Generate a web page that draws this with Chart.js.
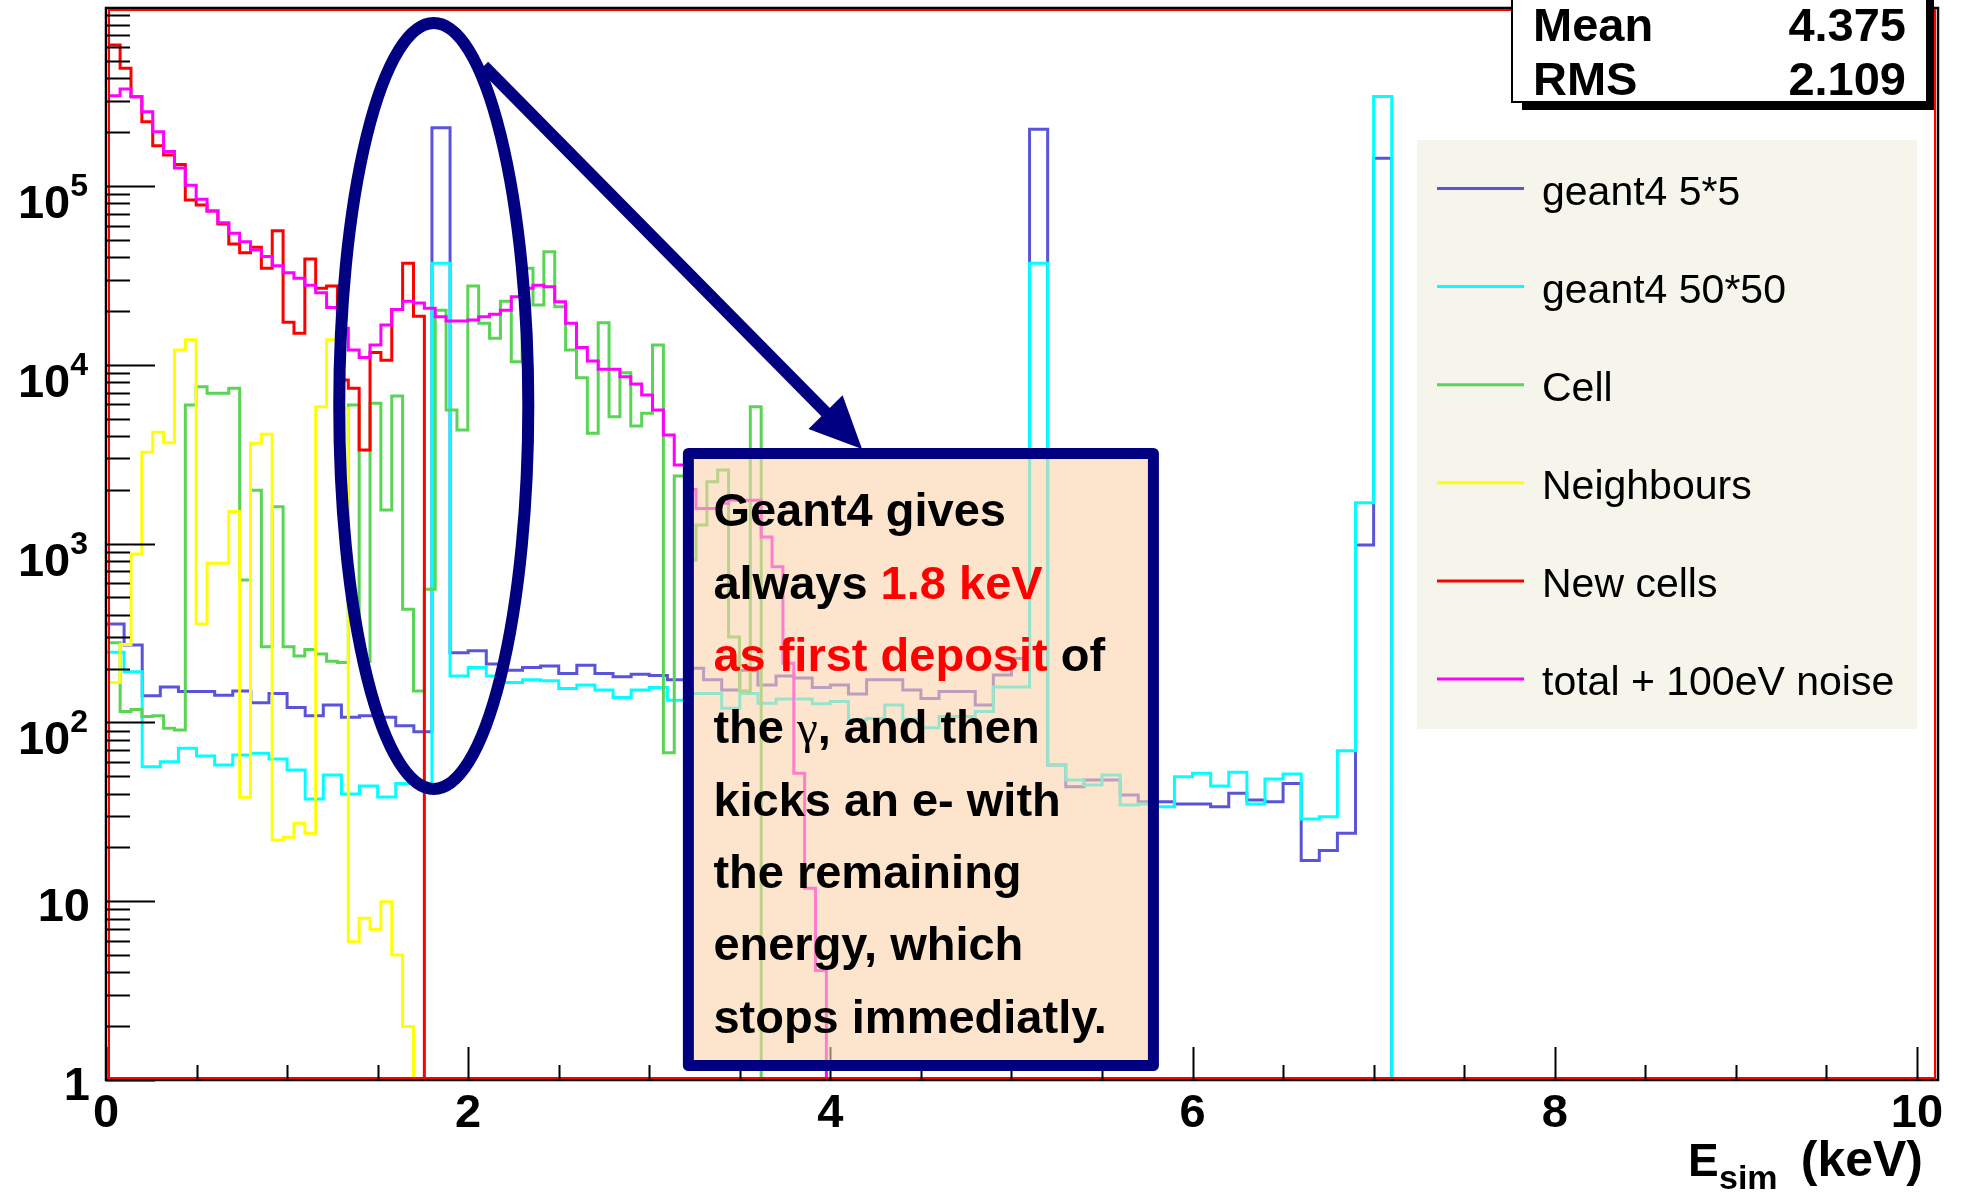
<!DOCTYPE html>
<html lang="en">
<head>
<meta charset="UTF-8">
<title>E_sim spectrum</title>
<script src="https://cdn.jsdelivr.net/npm/chart.js"></script>
<style>
    html, body { margin: 0; padding: 0; background: #fff; }
    #wrap { width: 1965px; height: 1194px; }
</style>
</head>
<body>
<div id="wrap"><canvas id="chartCanvas" width="1965" height="1194"></canvas></div>
<script>
// binning: fine histograms (Cell, Neighbours, New cells, total) and coarse geant4 ones
const FINE_START = 0.018;
const FINE_WIDTH = 0.06;
const COARSE_START = 0;
const COARSE_WIDTH = 0.1;

const X_MIN = 0, X_MAX = 10.1;
const Y_MIN = 1, Y_MAX = 9.9e5;

const X_TICKS = [0, 2, 4, 6, 8, 10];
const Y_TICKS = [[1, '1', ''], [10, '10', ''], [100, '10', '2'], [1000, '10', '3'], [10000, '10', '4'], [100000, '10', '5']];

// bin contents, 0.1 keV bins
const geant4_5x5 = [355, 271, 141, 158, 149, 149, 142, 150, 129, 145,
    121, 109, 125, 107, 109, 107, 95.9, 88.7, 2.12e5, 245,
    252, 212, 196, 203, 207, 188, 209, 188, 180, 186,
    183, 173, 201, 173, 152, 196, 162, 182, 177, 157,
    162, 144, 173, 173, 152, 136, 149, 149, 125, 184,
    228, 2.08e5, 57.8, 43.7, 47.6, 47.6, 39.3, 36.0, 36.0, 35.0,
    35.0, 33.8, 40.1, 36.8, 36.0, 45.6, 16.9, 19.2, 24.0, 982,
    1.43e5, 0];
const geant4_50x50 = [247, 192, 56.5, 60.3, 71.6, 64.9, 57.8, 65.7, 67.2, 62.4,
    54.2, 37.3, 50.8, 39.8, 44.1, 38.3, 45.6, 44.7, 3.70e4, 182,
    203, 182, 167, 173, 171, 155, 162, 152, 138, 152,
    157, 133, 145, 145, 120, 145, 128, 135, 135, 127,
    131, 103, 105, 125, 104, 93.4, 108, 108, 115, 158,
    158, 3.70e4, 57.8, 47.6, 44.7, 50.8, 34.5, 35.0, 33.8, 49.7,
    51.9, 44.1, 52.6, 35.0, 48.2, 51.4, 28.8, 29.7, 69.5, 1.69e3,
    3.17e5, 0];

// bin contents, 0.06 keV bins
const cell = [279, 115, 118, 108, 109, 92.7, 90.7, 5.96e3, 7.55e3, 6.93e3,
    6.93e3, 7.39e3, 626, 1.99e3, 265, 1.61e3, 265, 235, 256, 241,
    220, 216, 5.96e3, 219, 6.09e3, 1.54e3, 6.69e3, 429, 150, 555,
    2.02e4, 5.59e3, 4.32e3, 2.76e4, 1.71e4, 1.41e4, 2.27e4, 1.04e4, 3.47e4, 2.16e4,
    4.29e4, 2.11e4, 1.21e4, 8.47e3, 4.14e3, 1.72e4, 5.13e3, 9.03e3, 4.55e3, 5.36e3,
    1.29e4, 67.7, 2.39e3, 810, 1.27e3, 2.22e3, 2.58e3, 300, 150, 5.83e3,
    0];
const neighbours = [167, 273, 875, 3.24e3, 4.19e3, 3.67e3, 1.21e4, 1.38e4, 355, 776,
    776, 1.51e3, 38.1, 3.64e3, 4.09e3, 22.0, 22.8, 27.3, 24.0, 5.83e3,
    1.38e4, 5.71e3, 5.94, 8.02, 6.96, 9.94, 5.0, 1.99, 0];
const newCells = [6.15e5, 4.55e5, 3.16e5, 2.29e5, 1.68e5, 1.49e5, 1.32e5, 8.35e4, 7.83e4, 7.25e4,
    6.13e4, 4.74e4, 4.24e4, 4.54e4, 3.47e4, 5.62e4, 1.73e4, 1.50e4, 3.91e4, 2.68e4,
    2.76e4, 8.22e3, 7.39e3, 3.34e3, 1.17e4, 1.06e4, 2.04e4, 3.70e4, 1.87e4, 0];
const totalNoise = [3.20e5, 3.49e5, 3.16e5, 2.60e5, 2.01e5, 1.56e5, 1.26e5, 1.01e5, 8.43e4, 7.25e4,
    6.24e4, 5.44e4, 4.88e4, 4.39e4, 4.03e4, 3.58e4, 3.27e4, 3.05e4, 2.79e4, 2.53e4,
    2.09e4, 1.60e4, 1.21e4, 1.10e4, 1.29e4, 1.67e4, 2.04e4, 2.27e4, 2.22e4, 2.07e4,
    1.86e4, 1.76e4, 1.76e4, 1.78e4, 1.86e4, 1.92e4, 2.02e4, 2.40e4, 2.68e4, 2.79e4,
    2.73e4, 2.25e4, 1.71e4, 1.25e4, 1.05e4, 9.44e3, 9.44e3, 8.58e3, 7.81e3, 6.78e3,
    5.59e3, 4.05e3, 2.75e3, 2.01e3, 1.57e3, 1.57e3, 1.68e3, 1.75e3, 1.75e3, 1.75e3,
    1.09e3, 743, 214, 52, 11.8, 4.1, 0];

const STATS = [['Mean', '4.375'], ['RMS', '2.109']];

const NOTE_LINES = [
    [['Geant4 gives', '#000']],
    [['always ', '#000'], ['1.8 keV', '#f00']],
    [['as first deposit', '#f00'], [' of', '#000']],
    [['the ', '#000'], ['\u03b3', '#000', 'serif'], [', and then', '#000']],
    [['kicks an e- with', '#000']],
    [['the remaining', '#000']],
    [['energy, which', '#000']],
    [['stops immediatly.', '#000']]
];

const SANS = '"Liberation Sans", Arial, Helvetica, sans-serif';
const NAVY = '#000080';

// histogram -> step points (empty bins sit on the frame bottom, like ROOT's log scale)
function toSteps(values, start, width) {
    const pts = values.map((v, i) => ({ x: start + i * width, y: Math.max(v, Y_MIN) }));
    const last = values[values.length - 1];
    pts.push({ x: last > 0 ? start + values.length * width : X_MAX, y: Math.max(last, Y_MIN) });
    return pts;
}

function hist(label, values, start, width, color, order) {
    return {
        label: label,
        data: toSteps(values, start, width),
        borderColor: color,
        borderWidth: 3,
        stepped: true,
        pointRadius: 0,
        fill: false,
        order: order
    };
}

const rootStyle = {
    id: 'rootStyle',
    afterDatasetsDraw(chart) {
        const ctx = chart.ctx;
        const xs = chart.scales.x, ys = chart.scales.y;
        const a = chart.chartArea;
        ctx.save();

        // frame
        ctx.lineWidth = 2.5;
        ctx.strokeStyle = '#000';
        ctx.strokeRect(a.left, a.top, a.right + 3 - a.left, a.bottom - a.top);
        ctx.lineWidth = 2;
        ctx.strokeStyle = '#f00';
        ctx.strokeRect(a.left + 3, a.top + 2, a.right - a.left - 3, a.bottom - a.top - 4);

        // ticks
        ctx.strokeStyle = '#000';
        ctx.lineWidth = 2;
        ctx.beginPath();
        for (let d = 0; d <= 6; d++) {
            for (let m = 1; m <= 9; m++) {
                const v = m * Math.pow(10, d);
                if (v >= Y_MAX) break;
                const y = Math.round(ys.getPixelForValue(v)) + 0.5;
                ctx.moveTo(a.left, y);
                ctx.lineTo(a.left + (m === 1 ? 49 : 24), y);
            }
        }
        for (let i = 0; i * 0.5 <= 10; i++) {
            const x = Math.round(xs.getPixelForValue(i * 0.5)) + 0.5;
            ctx.moveTo(x, a.bottom);
            ctx.lineTo(x, a.bottom - (i % 4 === 0 ? 33 : 15));
        }
        ctx.stroke();

        // tick labels
        ctx.fillStyle = '#000';
        ctx.textBaseline = 'alphabetic';
        ctx.font = 'bold 47px ' + SANS;
        ctx.textAlign = 'center';
        X_TICKS.forEach(t => ctx.fillText(String(t), xs.getPixelForValue(t), 1127));
        Y_TICKS.forEach(([v, base, exp]) => {
            const y = ys.getPixelForValue(v);
            ctx.font = 'bold 47px ' + SANS;
            if (!exp) {
                ctx.textAlign = 'right';
                ctx.fillText(base, 90, y + 20);
                return;
            }
            const wb = ctx.measureText(base).width;
            ctx.font = 'bold 32px ' + SANS;
            const we = ctx.measureText(exp).width;
            ctx.textAlign = 'left';
            ctx.fillText(exp, 88 - we, y + 10);
            ctx.font = 'bold 47px ' + SANS;
            ctx.fillText(base, 88 - we - wb, y + 32);
        });

        // axis title
        ctx.textAlign = 'left';
        ctx.font = 'bold 46px ' + SANS;
        ctx.fillText('E', 1688, 1176);
        ctx.font = 'bold 34px ' + SANS;
        ctx.fillText('sim', 1719, 1189);
        ctx.textAlign = 'right';
        ctx.font = 'bold 50px ' + SANS;
        ctx.fillText('(keV)', 1923, 1176);

        // ellipse around the 1.8 keV line
        const cx = xs.getPixelForValue(1.81);
        const cy = ys.getPixelForValue(Math.pow(10, 3.77));
        const rx = xs.getPixelForValue(1.81 + 0.522) - cx;
        const ry = cy - ys.getPixelForValue(Math.pow(10, 3.77 + 2.142));
        ctx.strokeStyle = NAVY;
        ctx.lineWidth = 12;
        ctx.beginPath();
        ctx.ellipse(cx, cy, rx, ry, 0, 0, Math.PI * 2);
        ctx.stroke();

        // arrow to the note
        const x0 = xs.getPixelForValue(2.087), y0 = ys.getPixelForValue(Math.pow(10, 5.671));
        const x1 = xs.getPixelForValue(4.175), y1 = ys.getPixelForValue(Math.pow(10, 3.529));
        const len = Math.hypot(x1 - x0, y1 - y0);
        const ux = (x1 - x0) / len, uy = (y1 - y0) / len;
        const head = 52, half = 24;
        ctx.beginPath();
        ctx.moveTo(x0, y0);
        ctx.lineTo(x1 - ux * (head - 4), y1 - uy * (head - 4));
        ctx.stroke();
        ctx.fillStyle = NAVY;
        ctx.beginPath();
        ctx.moveTo(x1, y1);
        ctx.lineTo(x1 - ux * head - uy * half, y1 - uy * head + ux * half);
        ctx.lineTo(x1 - ux * head + uy * half, y1 - uy * head - ux * half);
        ctx.closePath();
        ctx.fill();

        // note box (semi transparent fill)
        const bl = xs.getPixelForValue(3.216), br = xs.getPixelForValue(5.784);
        const bt = ys.getPixelForValue(Math.pow(10, 3.504)), bb = ys.getPixelForValue(Math.pow(10, 0.081));
        ctx.fillStyle = 'rgba(252, 210, 172, 0.6)';
        ctx.fillRect(bl, bt, br - bl, bb - bt);
        ctx.lineWidth = 11;
        ctx.strokeStyle = NAVY;
        ctx.lineJoin = 'round';
        ctx.strokeRect(bl, bt, br - bl, bb - bt);
        ctx.textAlign = 'left';
        NOTE_LINES.forEach((line, i) => {
            let x = bl + 25;
            const y = bt + 73 + i * 72.3;
            line.forEach(([txt, col, face]) => {
                ctx.font = face === 'serif' ? '47px "Liberation Serif", serif' : 'bold 47px ' + SANS;
                ctx.fillStyle = col;
                ctx.fillText(txt, x, y);
                x += ctx.measureText(txt).width;
            });
        });

        // stats box
        ctx.lineJoin = 'miter';
        ctx.fillStyle = '#000';
        ctx.fillRect(1522, -10, 412, 120);
        ctx.fillStyle = '#fff';
        ctx.fillRect(1512, -10, 415, 112);
        ctx.lineWidth = 2;
        ctx.strokeStyle = '#000';
        ctx.strokeRect(1512, -10, 415, 112);
        ctx.fillStyle = '#000';
        ctx.font = 'bold 47px ' + SANS;
        STATS.forEach(([k, v], i) => {
            const y = 41 + i * 54;
            ctx.textAlign = 'left';
            ctx.fillText(k, 1533, y);
            ctx.textAlign = 'right';
            ctx.fillText(v, 1906, y);
        });

        // legend
        ctx.fillStyle = '#f5f5ec';
        ctx.fillRect(1417, 140, 500, 589);
        ctx.font = '41px ' + SANS;
        ctx.textAlign = 'left';
        chart.data.datasets.forEach((ds, i) => {
            const y = 188.5 + i * 98.1;
            ctx.strokeStyle = ds.borderColor;
            ctx.lineWidth = 3;
            ctx.beginPath();
            ctx.moveTo(1437, y);
            ctx.lineTo(1524, y);
            ctx.stroke();
            ctx.fillStyle = '#000';
            ctx.fillText(ds.label, 1542, y + 16);
        });

        ctx.restore();
    }
};

new Chart(document.getElementById('chartCanvas').getContext('2d'), {
    type: 'line',
    data: {
        datasets: [
            hist('geant4 5*5', geant4_5x5, COARSE_START, COARSE_WIDTH, '#5954d9', 6),
            hist('geant4 50*50', geant4_50x50, COARSE_START, COARSE_WIDTH, '#00ffff', 5),
            hist('Cell', cell, FINE_START, FINE_WIDTH, '#59d454', 4),
            hist('Neighbours', neighbours, FINE_START, FINE_WIDTH, '#ffff00', 3),
            hist('New cells', newCells, FINE_START, FINE_WIDTH, '#ff0000', 2),
            hist('total + 100eV noise', totalNoise, FINE_START, FINE_WIDTH, '#ff00ff', 1)
        ]
    },
    options: {
        responsive: false,
        animation: false,
        layout: { padding: { left: 106, right: 30, top: 8, bottom: 114 } },
        plugins: { legend: { display: false }, tooltip: { enabled: false } },
        scales: {
            x: { type: 'linear', min: X_MIN, max: X_MAX, bounds: 'data', display: false },
            y: { type: 'logarithmic', min: Y_MIN, max: Y_MAX, display: false }
        }
    },
    plugins: [rootStyle]
});
</script>
</body>
</html>
